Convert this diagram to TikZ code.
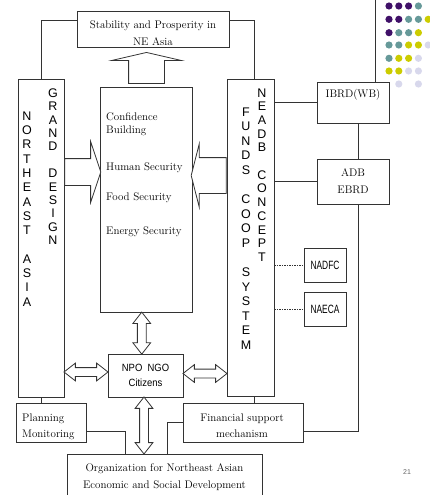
\documentclass[tikz,border=0pt]{standalone}
\usepackage{fontspec}
\newfontfamily\arialfont{Liberation Sans}
\usepackage{tikz}
\usetikzlibrary{shapes.arrows, calc}
\definecolor{dP}{RGB}{64,16,104}
\definecolor{dT}{RGB}{102,153,153}
\definecolor{dY}{RGB}{204,204,0}
\definecolor{dL}{RGB}{216,216,236}

\begin{document}
\begin{tikzpicture}[x=1pt, y=-1pt,
    box/.style={draw=black!80, line width=0.8pt, inner sep=0pt},
    conn/.style={draw=black!80, line width=0.8pt},
    dotconn/.style={draw=black!80, line width=0.7pt, dash pattern=on 1.5pt off 1pt},
    serif/.style={font=\fontsize{11}{13}\selectfont, inner sep=0pt},
    sans/.style={font=\arialfont\fontsize{10.5}{15}\selectfont},
    vletter/.style={font=\arialfont\fontsize{12.5}{12.5}\selectfont, inner sep=0pt},
    hollow/.style={draw=black!80, line width=0.8pt, fill=white, inner xsep=0pt},
    dblarrow/.style={hollow, double arrow, inner ysep=4pt, minimum width=17pt,
        double arrow head extend=4.5pt, double arrow tip angle=76},
    vdblarrow/.style={dblarrow, inner xsep=4pt, inner ysep=0pt, shape border rotate=90}]
    \useasboundingbox (0,0) rectangle (430,495);

    % Punti decorativi
    \foreach \yy/\row in {6/{dP,dP,dP,dT}, 19.3/{dP,dP,dT,dT,dY}, 32.7/{dP,dT,dT,dY},
        45/{dT,dT,dY,dY,dL}, 58.3/{dT,dY,dY,dL}, 71/{dY,dY,dL,dL}, 84/{white,dL,white,dL}} {
        \foreach \c [count=\i from 0] in \row
            \fill[\c] ({389+9.8*\i},\yy) circle (3.6pt);
    }

    % Riquadri
    \node[box, minimum width=152pt, minimum height=35.5pt] (stab) at (153,29.5) {};
    \node[box, minimum width=46pt, minimum height=318pt] (grand) at (41,238) {};
    \node[box, minimum width=47pt, minimum height=317pt] (funds) at (250.5,237.5) {};
    \node[box, minimum width=92pt, minimum height=224.5pt] (secur) at (146,200) {};
    \node[box, minimum width=72pt, minimum height=41pt] (ibrd) at (353,102.5) {};
    \node[box, minimum width=72pt, minimum height=45pt] (adb) at (353,181.5) {};
    \node[box, minimum width=42pt, minimum height=34pt, font=\arialfont\fontsize{12}{12}\selectfont] (nadfc) at (325,265) {\scalebox{0.7}[1]{NADFC}};
    \node[box, minimum width=42pt, minimum height=34pt, font=\arialfont\fontsize{12}{12}\selectfont] (naeca) at (325,309) {\scalebox{0.7}[1]{NAECA}};
    \node[box, sans, align=center, minimum width=75pt, minimum height=43pt] (npo) at (145.5,375.5) {\scalebox{0.9}[1]{NPO\ \ NGO}\\\scalebox{0.9}[1]{Citizens}};
    \node[box, minimum width=70pt, minimum height=39pt] (plan) at (51,422.5) {};
    \node[box, minimum width=120pt, minimum height=39pt] (fin) at (243,422.5) {};
    \node[box, minimum width=195pt, minimum height=46pt] (org) at (164.5,477) {};

    % Testi
    \node[serif, anchor=base] (stab1) at (153,28.5) {Stability and Prosperity in};
    \node[serif, anchor=base] (stab2) at (153,45.5) {NE Asia};
    \foreach \t/\yy [count=\i] in {Confidence/120.5, Building/133.5, Human Security/170.5,
        Food Security/200.5, Energy Security/234.5}
        \node[serif, anchor=base west] (sec\i) at (106,\yy) {\t};
    \node[serif, anchor=base] (ibrd1) at (353,97) {IBRD(WB)};
    \node[serif, anchor=base] (adb1) at (353,176.5) {ADB};
    \node[serif, anchor=base] (adb2) at (353,193) {EBRD};
    \node[serif, anchor=base west] (plan1) at (22,421.5) {Planning};
    \node[serif, anchor=base west] (plan2) at (22,437.5) {Monitoring};
    \node[serif, anchor=base] (fin1) at (242,421.5) {Financial support};
    \node[serif, anchor=base] (fin2) at (242,437.5) {mechanism};
    \node[serif, anchor=base] (org1) at (164.5,471.5) {Organization for Northeast Asian};
    \node[serif, anchor=base] (org2) at (164.5,488.5) {Economic and Social Development};
    \node[font=\arialfont\fontsize{7}{7}\selectfont, text=black!60, inner sep=0pt] (pagenum) at (407,472) {21};

    % Lettere verticali
    \foreach \ch [count=\i from 0] in {N,O,R,T,H,E,A,S,T,{},A,S,I,A}
        \node[vletter] (ne\i) at (27,{116+14.3*\i}) {\ch};
    \foreach \ch [count=\i from 0] in {G,R,A,N,D,{},D,E,S,I,G,N}
        \node[vletter] (gd\i) at (53,{93+13.4*\i}) {\ch};
    \foreach \ch [count=\i from 0] in {F,U,N,D,S,{},C,O,O,P,{},S,Y,S,T,E,M}
        \node[vletter] (fc\i) at (246,{112+14.56*\i}) {\ch};
    \foreach \ch [count=\i from 0] in {N,E,A,D,B,{},C,O,N,C,E,P,T}
        \node[vletter] (nc\i) at (262,{93+13.67*\i}) {\ch};

    % Collegamenti
    \coordinate (edge) at (375,-2);
    \draw[conn] (grand.north) |- ([yshift=9.5pt]stab.west);
    \draw[conn] ([yshift=9.5pt]stab.east) -| ([xshift=3.5pt]funds.north);
    \draw[conn] ([xshift=22pt]ibrd.north) -- (edge);
    \draw[conn] (funds.east |- ibrd.west) -- (ibrd.west);
    \draw[conn] ([xshift=5pt]ibrd.south) -- ([xshift=5pt]adb.north);
    \draw[conn] (funds.east |- adb.west) -- (adb.west);
    \draw[conn] ([xshift=5pt]adb.south) |- ([yshift=-8.5pt]fin.east);
    \draw[dotconn] (funds.east |- nadfc.west) -- (nadfc.west);
    \draw[dotconn] (funds.east |- naeca.west) -- (naeca.west);
    \draw[conn] ([xshift=3.5pt]funds.south) -- ++(0,7);
    \draw[conn] (grand.south) -- (grand.south |- plan.north);
    \draw[conn] ([yshift=-8.5pt]plan.east) -| ([xshift=-39.5pt]org.north);
    \draw[conn] (fin.west) -| ([xshift=2.5pt]org.north);

    % Frecce
    \node[hollow, single arrow, inner xsep=17.5pt, inner ysep=0pt, minimum height=31pt, minimum width=69pt,
        single arrow head extend=17pt, single arrow tip angle=154,
        shape border rotate=90, anchor=tail] (uparr) at ([xshift=0.5pt,yshift=3.5pt]secur.north) {};
    \node[hollow, single arrow, inner ysep=13pt, minimum height=36pt, minimum width=60pt,
        single arrow head extend=17pt, single arrow tip angle=143,
        anchor=tail] (leftarr) at ([yshift=66pt]grand.east) {};
    \node[hollow, single arrow, inner ysep=17.5pt, minimum height=35pt, minimum width=62pt,
        single arrow head extend=13.5pt, single arrow tip angle=151.5,
        shape border rotate=180, anchor=tail] (rightarr) at ([yshift=62pt]funds.west) {};
    \node[vdblarrow, minimum height=42pt] (secnpo)
        at ($(secur.south)!0.5!(npo.north)+(-4,0)$) {};
    \node[vdblarrow, minimum height=57pt] (npoorg)
        at ($(npo.south)!0.5!(npo.south |- org.north)+(-1.5,0)$) {};
    \node[dblarrow, minimum height=44pt] (grandnpo)
        at ($(grand.east |- npo.west)!0.5!(npo.west)+(0,-3.5)$) {};
    \node[dblarrow, minimum height=44pt] (npofunds)
        at ($(npo.east)!0.5!(funds.west |- npo.east)+(0,-2)$) {};
\end{tikzpicture}
\end{document}
